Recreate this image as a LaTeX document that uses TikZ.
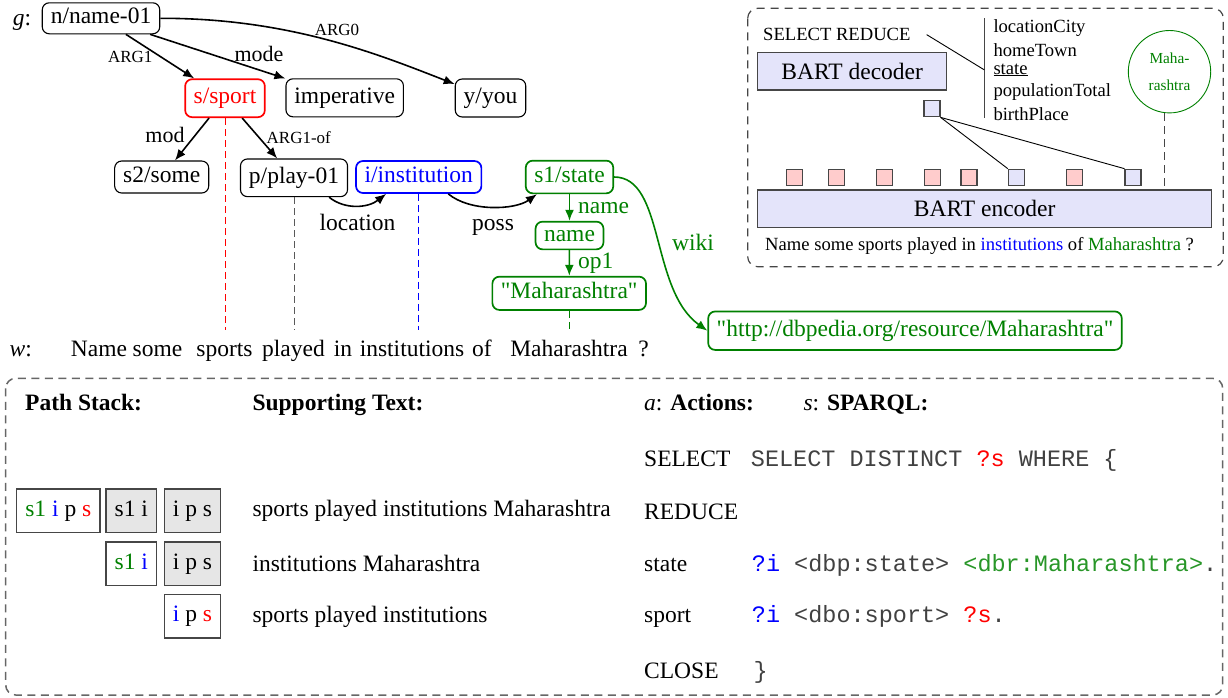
\documentclass[tikz,border=0pt]{standalone}
\usepackage{fontspec}
\setmainfont{Liberation Serif}[Ligatures=TeXOff]
\setmonofont{Liberation Mono}
\usetikzlibrary{arrows.meta}
\definecolor{lav}{RGB}{228,228,250}
\definecolor{pnk}{RGB}{255,204,204}
\definecolor{gfill}{RGB}{230,230,230}
\definecolor{dgreen}{RGB}{0,128,0}
\definecolor{cgreen}{RGB}{40,150,40}
\definecolor{codegray}{RGB}{65,65,65}
\definecolor{edge}{RGB}{70,70,70}
\begin{document}
\begin{tikzpicture}[x=1pt,y=-1pt,
  every node/.style={font=\fontsize{23.5}{28}\selectfont},
  amr/.style={draw, rounded corners=7pt, inner xsep=8.5pt, inner ysep=0pt, text height=16pt, text depth=5pt, line width=1.1pt},
  colnode/.style={amr, draw=#1, text=#1, line width=1.7pt},
  arr/.style={-{Latex[length=11pt,width=9pt]}, line width=1.6pt},
  garr/.style={arr, dgreen},
  lbls/.style={inner sep=0pt, anchor=base, font=\fontsize{17}{20}\selectfont},
  lbl/.style={inner sep=0pt, anchor=base, font=\fontsize{22}{26}\selectfont},
  glbl/.style={inner sep=0pt, anchor=base west, text=dgreen},
  wd/.style={inner sep=0pt, anchor=base},
  vdash/.style={dash pattern=on 7pt off 4pt, line width=1pt, draw=#1},
  sm/.style={inner sep=0pt, anchor=base west, font=\fontsize{18.6}{22}\selectfont},
  bart/.style={draw=edge, fill=lav, line width=1.2pt, inner sep=0pt},
  sq/.style={draw=edge, line width=1.1pt, minimum size=16pt, inner sep=0pt},
  frame/.style={draw=edge, line width=1.2pt, dash pattern=on 8pt off 6pt, rounded corners=10pt},
  stk/.style={draw=edge, line width=1.2pt, inner sep=0pt, text height=16pt, text depth=5pt, minimum height=43.3pt},
  tx/.style={inner sep=0pt, anchor=base west},
  code/.style={inner sep=0pt, anchor=base west, text=codegray, font=\fontsize{23.5}{28}\ttfamily}
]
\useasboundingbox (0,0) rectangle (1228,697);

% ---------- AMR graph ----------
\node[inner sep=0pt, anchor=base west] (glab) at (12.7,25) {\textit{g}:};
\node[amr, minimum height=31pt] (nname) at (101,18.3) {n/name-01};
\node[colnode=red, minimum height=38pt] (sport) at (225,98.2) {s/sport};
\node[amr, minimum height=38pt] (imp) at (344.7,97.8) {imperative};
\node[amr, minimum height=38pt] (you) at (490.5,98) {y/you};
\node[amr, minimum height=32pt] (some) at (161.7,177) {s2/some};
\node[amr, minimum height=37.7pt] (play) at (294,177.8) {p/play-01};
\node[colnode=blue, minimum height=32pt] (inst) at (418.7,177) {i/institution};
\node[colnode=dgreen, minimum height=32.7pt] (state) at (569.5,177) {s1/state};
\node[colnode=dgreen, minimum height=27.7pt] (nm) at (569.5,235.5) {name};
\node[colnode=dgreen, minimum height=33.3pt] (maha) at (569.2,293.3) {"Maharashtra"};
\node[colnode=dgreen, minimum height=38.5pt] (dbp) at (915,330.7) {"http://dbpedia.org/resource/Maharashtra"};

\draw[arr] (nname) -- (sport);
\draw[arr] (nname) -- (imp);
\draw[arr] (nname.east) .. controls (290,18) and (380,55) .. (you);
\draw[arr] (sport) -- (some);
\draw[arr] (sport) -- (play);
\draw[arr] ([xshift=-19pt]play.south east) .. controls (345,210) and (368,208) .. ([xshift=31pt]inst.south west);
\draw[arr] ([xshift=-34pt]inst.south east) .. controls (470,212) and (515,210) .. ([xshift=12pt]state.south west);
\draw[garr] (state) -- (nm);
\draw[garr] (nm) -- (maha);
\draw[garr] (state.east) .. controls (665,177) and (650,290) .. (dbp.west);

\node[lbls] (lA1) at (130.3,62.7) {ARG1};
\node[lbls] (lA0) at (337,35) {ARG0};
\node[lbl] (lmode) at (259,61.7) {mode};
\node[lbl] (lmod) at (165,142.7) {mod};
\node[lbls] (lA1of) at (298.8,143.3) {ARG1-of};
\node[wd] (lloc) at (357.5,230) {location};
\node[wd] (lposs) at (493,230) {poss};
\node[glbl] (lname) at (578,213.3) {name};
\node[glbl] (lop1) at (578,268.3) {op1};
\node[wd, text=dgreen] (lwiki) at (693,250) {wiki};

% alignment lines
\coordinate (wtop) at (0,330);
\draw[vdash=red] (sport.south) -- (sport.south |- wtop);
\draw[vdash=black!65] (play.south) -- (play.south |- wtop);
\draw[vdash=blue] (inst.south) -- (inst.south |- wtop);
\draw[vdash=dgreen] (maha.south) -- (maha.south |- wtop);

% sentence w
\node[inner sep=0pt, anchor=base west] (wlab) at (9.5,356.7) {\textit{w}:};
\node[wd] (w1) at (99,356.7) {Name};
\node[wd] (w2) at (157.5,356.7) {some};
\node[wd] (w3) at (224.5,356.7) {sports};
\node[wd] (w4) at (293.5,356.7) {played};
\node[wd] (w5) at (343,356.7) {in};
\node[wd] (w6) at (412,356.7) {institutions};
\node[wd] (w7) at (482,356.7) {of};
\node[wd] (w8) at (569,356.7) {Maharashtra};
\node[wd] (w9) at (643.5,356.7) {?};

% ---------- top-right model box ----------
\draw[frame] (747.7,8.3) rectangle (1223.3,266.7);
\node[sm] (selred) at (763,40.7) {SELECT REDUCE};
\node[bart, minimum width=189pt, minimum height=37.7pt] (dec) at (852.2,71.2) {BART decoder};
\coordinate (barT) at (984.3,18.3);
\coordinate (barB) at (984.3,118.3);
\draw[line width=0.9pt, draw=edge] (barT) -- (barB);
\node[sm] (l1) at (993.3,32.7) {locationCity};
\node[sm] (l2) at (993.3,56) {homeTown};
\node[sm] (l3) at (993.3,74) {\underline{state}};
\node[sm] (l4) at (993.3,96.7) {populationTotal};
\node[sm] (l5) at (993.3,120) {birthPlace};
\draw[line width=0.9pt] ([xshift=16pt]selred.east) -- (barT |- l3.west);

\node[circle, draw=dgreen, line width=0.9pt, minimum size=82.4pt, inner sep=0pt, align=center, text=dgreen, font=\fontsize{15.3}{26.7}\selectfont] (mc) at (1169.5,71.7) {Maha-\\rashtra};

\node[sq, fill=lav] (dsq) at (932,108.8) {};
\node[sq, fill=pnk] (e1) at (794.2,177.2) {};
\node[sq, fill=pnk] (e2) at (836.3,177.2) {};
\node[sq, fill=pnk] (e3) at (884.2,177.2) {};
\node[sq, fill=pnk] (e4) at (932.2,177.2) {};
\node[sq, fill=pnk] (e5) at (969,177.2) {};
\node[sq, fill=lav] (e6) at (1016.3,177.2) {};
\node[sq, fill=pnk] (e7) at (1074.7,177.2) {};
\node[sq, fill=lav] (e8) at (1133,177.2) {};
\node[bart, minimum width=454pt, minimum height=37.7pt] (enc) at (984.7,208.8) {BART encoder};
\draw[line width=0.9pt] (dsq.south east) -- (e6.north west);
\draw[line width=0.9pt] (dsq.south east) -- (e8.north west);
\coordinate (mcb) at ([xshift=-5pt]mc.south);
\draw[draw=edge, line width=1pt, dash pattern=on 8pt off 5pt] (mcb) -- (mcb |- enc.north);
\node[sm] (sent) at (765,250.7) {Name some sports played in \textcolor{blue}{institutions} of \textcolor{dgreen}{Maharashtra} ?};

% ---------- bottom box ----------
\draw[frame, draw=black!60, line width=1.5pt, dash pattern=on 8pt off 5.5pt] (5.7,378.3) rectangle (1222.7,695);
\node[tx] (hps) at (25,410.7) {\textbf{Path Stack:}};
\node[tx] (hst) at (252.3,410.7) {\textbf{Supporting Text:}};
\node[tx] (hac) at (644,410.7) {\textit{a}: \textbf{Actions:}};
\node[tx] (hsp) at (803.3,410.7) {\textit{s}: \textbf{SPARQL:}};

\node[stk, minimum width=83.3pt] (b11) at (58.3,510.7) {\textcolor{dgreen}{s1} \textcolor{blue}{i} p \textcolor{red}{s}};
\node[stk, fill=gfill, minimum width=50.7pt] (b12) at (131.3,510.7) {s1 i};
\node[stk, fill=gfill, minimum width=56.3pt] (b13) at (192.5,510.7) {i p s};
\node[stk, minimum width=50.7pt] (b22) at (131.3,563.7) {\textcolor{dgreen}{s1} \textcolor{blue}{i}};
\node[stk, fill=gfill, minimum width=56.3pt] (b23) at (192.5,563.7) {i p s};
\node[stk, minimum width=56.3pt] (b33) at (192.5,616.3) {\textcolor{blue}{i} p \textcolor{red}{s}};

\node[tx] (st1) at (252.3,516.7) {sports played institutions Maharashtra};
\node[tx] (st2) at (252.3,571.7) {institutions Maharashtra};
\node[tx] (st3) at (252.3,622.7) {sports played institutions};

\node[tx] (a1) at (644,466.7) {SELECT};
\node[tx] (a2) at (644,519.3) {REDUCE};
\node[tx] (a3) at (644,571) {state};
\node[tx] (a4) at (644,622.5) {sport};
\node[tx] (a5) at (644,678.3) {CLOSE};

\node[code] (c1) at (750.7,466.7) {SELECT DISTINCT \textcolor{red}{?s} WHERE \{};
\node[code] (c3) at (751.7,571) {\textcolor{blue}{?i} <dbp:state> \textcolor{cgreen}{<dbr:Maharashtra>}.};
\node[code] (c4) at (751.7,622.5) {\textcolor{blue}{?i} <dbo:sport> \textcolor{red}{?s}.};
\node[code] (c5) at (753.3,678.3) {\}};
\end{tikzpicture}
\end{document}
